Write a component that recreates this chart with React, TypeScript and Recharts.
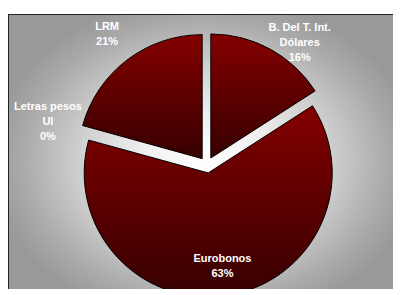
import { PieChart, Pie, Sector } from 'recharts';

const categories = ['B. Del T. Int. Dólares', 'Eurobonos', 'Letras pesos UI', 'LRM'];
const shares = [15.9, 63.36, 0.04, 20.7];

const data = categories.map((name, i) => ({ name, value: shares[i] }));

const RAD = Math.PI / 180;
const EXPLODE = 8;
const FRAME_TOP = 2; // labels reaching above this get pulled in
const LABEL_TOP = 12;
const LINE_H = 15;

// excel-ish wrapping of long category names
function wrap(text: string, max = 14): string[] {
  const out: string[] = [];
  let cur = '';
  for (const w of text.split(' ')) {
    const next = cur ? cur + ' ' + w : w;
    if (next.length > max && cur) {
      out.push(cur);
      cur = w;
    } else {
      cur = next;
    }
  }
  if (cur) out.push(cur);
  return out;
}

function ExplodedSlice(props: any) {
  const { cx, cy, midAngle, innerRadius, outerRadius, startAngle, endAngle, index, percent } = props;
  const dx = EXPLODE * Math.cos(-midAngle * RAD);
  const dy = EXPLODE * Math.sin(-midAngle * RAD);
  // a ~0% slice has no visible area
  const tiny = percent < 0.005;
  return (
    <g>
      {index === 0 && (
        <defs>
          <linearGradient id="sliceFill" x1="0" y1="0" x2="0" y2="1">
            <stop offset="0%" stopColor="#840000" />
            <stop offset="100%" stopColor="#360000" />
          </linearGradient>
        </defs>
      )}
      <Sector
        cx={cx + dx}
        cy={cy + dy}
        innerRadius={innerRadius}
        outerRadius={outerRadius}
        startAngle={startAngle}
        endAngle={endAngle}
        fill={tiny ? 'none' : 'url(#sliceFill)'}
        stroke={tiny ? 'none' : '#000'}
        strokeWidth={1}
      />
    </g>
  );
}

function renderLabel(props: any) {
  const { cx, cy, midAngle, outerRadius, percent, name } = props;
  const inside = percent > 0.5;
  const r = inside ? outerRadius - 22 : outerRadius + 41;
  const lines = [...wrap(String(name)), `${Math.round(percent * 100)}%`];
  const half = ((lines.length - 1) * LINE_H) / 2;
  const cos = Math.cos(-midAngle * RAD);
  let x = cx + r * cos;
  let y = cy + r * Math.sin(-midAngle * RAD);
  // keep outside labels within the frame, sliding them in along a tighter circle
  if (!inside && y - half < FRAME_TOP) {
    const rc = outerRadius + 30;
    y = LABEL_TOP + half;
    const h = cy - y;
    x = cx + Math.sign(cos) * Math.sqrt(rc * rc - h * h);
  }
  return (
    <text
      x={x}
      y={y - half}
      fill="#fff"
      textAnchor="middle"
      dominantBaseline="central"
      fontFamily="'Liberation Sans', Arial, sans-serif"
      fontWeight="bold"
      fontSize={11}
    >
      {lines.map((l, i) => (
        <tspan key={i} x={x} dy={i === 0 ? 0 : LINE_H}>
          {l}
        </tspan>
      ))}
    </text>
  );
}

export default function App() {
  return (
    <div
      style={{
        position: 'relative',
        top: 6,
        width: 392,
        height: 280,
        borderTop: '1px solid #222',
        borderLeft: '1px solid #222',
        background:
          'radial-gradient(ellipse 215px 165px at 196px 146px, #ffffff 0%, #f0f0f0 28%, #d0d0d0 58%, #aaaaaa 85%, #999999 100%)',
      }}
    >
      <PieChart width={392} height={280}>
        <Pie
          data={data}
          dataKey="value"
          nameKey="name"
          cx={193}
          cy={145}
          outerRadius={124}
          startAngle={90}
          endAngle={-270}
          stroke="#000"
          labelLine={false}
          label={renderLabel}
          shape={ExplodedSlice}
          isAnimationActive={false}
        />
      </PieChart>
    </div>
  );
}
